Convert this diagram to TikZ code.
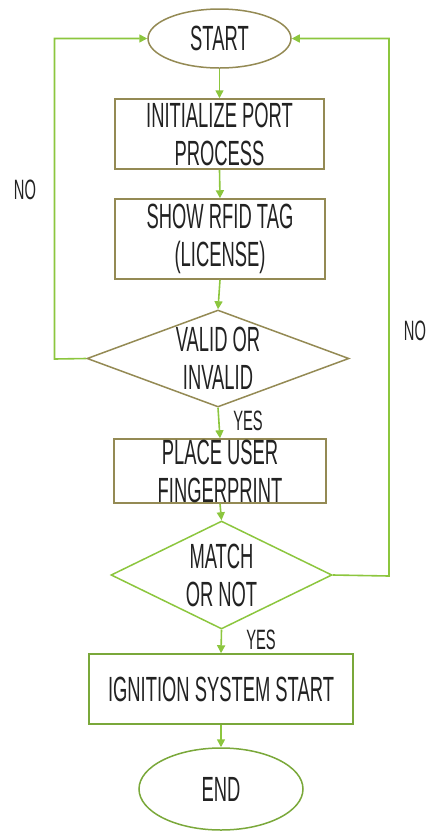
\documentclass[tikz,border=0pt]{standalone}
\usepackage{fontspec}
\setmainfont{Liberation Sans}[FakeStretch=0.525]
\usetikzlibrary{shapes.geometric,arrows.meta}
\definecolor{olivebd}{HTML}{948A54}
\definecolor{greenbd}{HTML}{7AA83A}
\definecolor{arrgreen}{HTML}{8CC63E}
\definecolor{txtc}{HTML}{222222}
\begin{document}
\begin{tikzpicture}[x=1pt,y=-1pt,
  shp/.style={draw=olivebd, line width=1.5pt, inner sep=0pt, fill=white},
  gshp/.style={shp, draw=greenbd},
  boxs/.style={rectangle},
  ell/.style={ellipse},
  dia/.style={diamond},
  txt/.style={text=txtc, align=center, inner sep=0pt, font=\fontsize{35}{38}\selectfont},
  lbl/.style={text=txtc, inner sep=0pt, font=\fontsize{28}{30}\selectfont},
  arr/.style={draw=arrgreen, line width=1.6pt, -{Triangle[length=8pt,width=8pt]}},
  lin/.style={draw=arrgreen, line width=1.6pt}]
\useasboundingbox (0,0) rectangle (428,831);
% nodes
\node[shp, ell, minimum width=143pt, minimum height=59pt,
  label={[txt]center:START}] (start) at (219.5,38.5) {};
\node[shp, boxs, minimum width=209pt, minimum height=70pt,
  label={[txt]center:INITIALIZE PORT\\PROCESS}] (init) at (219.5,134) {};
\node[shp, boxs, minimum width=210pt, minimum height=80pt,
  label={[txt]center:SHOW RFID TAG\\(LICENSE)}] (rfid) at (220,239) {};
\node[shp, dia, minimum width=262pt, minimum height=97pt,
  label={[txt]center:VALID OR\\INVALID}] (valid) at (218,358.5) {};
\node[shp, boxs, minimum width=212pt, minimum height=64pt,
  label={[txt]center:PLACE USER\\FINGERPRINT}] (place) at (220,471) {};
\node[gshp, dia, draw=arrgreen, minimum width=221pt, minimum height=108pt,
  label={[txt]center:MATCH\\OR NOT}] (match) at (221.5,575) {};
\node[gshp, boxs, minimum width=264pt, minimum height=70pt,
  label={[txt]center:IGNITION SYSTEM START}] (ign) at (221,689) {};
\node[gshp, ell, minimum width=164pt, minimum height=82pt,
  label={[txt]center:END}] (end) at (221,789) {};
% labels
\node[lbl] (no1) at (25,190) {NO};
\node[lbl] (no2) at (415,331) {NO};
\node[lbl] (yes1) at (248,421) {YES};
\node[lbl] (yes2) at (261,640) {YES};
% connectors
\coordinate (lc) at (54.5,359);
\coordinate (rc) at (389,576);
\draw[arr] (start.south) -- (init.north);
\draw[arr] (init.south) -- (rfid.north);
\draw[arr] (rfid.south) -- (valid.north);
\draw[arr] (valid.south) -- (place.north);
\draw[arr] (place.south) -- (match.north);
\draw[arr] (match.south) -- (ign.north);
\draw[arr] (ign.south) -- (end.north);
\draw[arr] (valid.west) -- (lc) |- (start.west);
\draw[arr] (match.east) -- (rc) |- (start.east);
\end{tikzpicture}
\end{document}
